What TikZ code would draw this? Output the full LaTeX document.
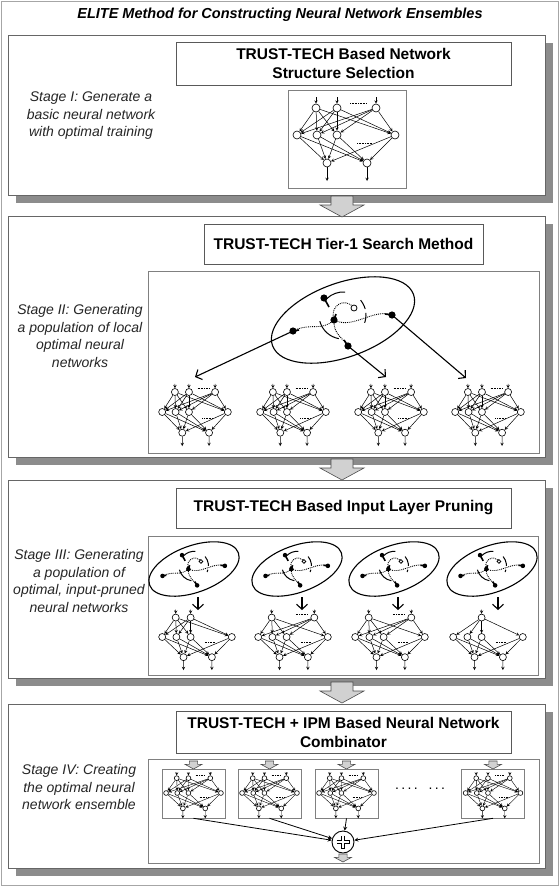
\documentclass[tikz,border=0pt]{standalone}
\usepackage{fontspec}
\setmainfont{Liberation Sans}
\usetikzlibrary{arrows.meta,shadows}

\tikzset{
  neuron/.style={circle, draw, fill=white, inner sep=0pt, minimum size=8pt, line width=0.6pt},
  syn/.style={->, line width=0.5pt},
  stagebox/.style={draw=black!60, fill=white, line width=0.6pt,
    drop shadow={shadow xshift=8pt, shadow yshift=-8pt, fill=black!45, opacity=1}},
  headbox/.style={draw=black!65, fill=white, line width=0.6pt, align=center,
    font=\fontsize{15.5}{19}\selectfont\bfseries},
  innerbox/.style={draw=black!50, fill=white, line width=0.6pt},
  stagetext/.style={font=\fontsize{14}{17.5}\selectfont\itshape, align=center, text=black!85},
  bigarrow/.style={-{Straight Barb[length=5pt,width=11pt]}, line width=1.1pt},
  flow/.style={draw=black!70, fill=black!18, line width=0.6pt},
  traj/.style={densely dotted, line width=0.9pt},
}

% #1 centre, #2 options, #3 name, #4 inputs kept, #5 dots on input row
\newcommand{\nnet}[5]{%
\begin{scope}[shift={#1},#2]
  \foreach \k/\hx in {1/-49,2/-29,3/-9,4/49}
    \node[neuron] (#3h\k) at (\hx,0) {};
  \foreach \k/\ox in {1/-19,2/21} {
    \node[neuron] (#3o\k) at (\ox,28) {};
    \coordinate (#3y\k) at (\ox,46);
    \draw[syn] (#3o\k) -- (#3y\k);
    \foreach \j in {1,...,4} \draw[syn] (#3h\j) -- (#3o\k);
  }
  \foreach \k in {#4} {
    \pgfmathsetmacro{\ix}{{-30,-9,30}[\k-1]}
    \node[neuron] (#3i\k) at (\ix,-27) {};
    \coordinate (#3x\k) at (\ix,-38);
    \draw[syn] (#3x\k) -- (#3i\k);
    \foreach \j in {1,...,4} \draw[syn] (#3i\k) -- (#3h\j);
  }
  \draw[densely dotted, line width=0.6pt] (11,8) -- (26,8);
  \ifnum#5=1 \draw[densely dotted, line width=0.6pt] (4,-32) -- (21,-32); \fi
\end{scope}}

% #1 centre, #2 scale, #3 name
\newcommand{\basin}[3]{%
\begin{scope}[shift={#1}, scale=#2]
  \draw[line width=1.1pt, rotate=20] (0,0) ellipse (75 and 37);
  \coordinate (#3-o) at (11,-12);
  \coordinate (#3-t) at (-19,-22);
  \coordinate (#3-j) at (-9,0);
  \coordinate (#3-l) at (-50,11);
  \coordinate (#3-r) at (49,-5);
  \coordinate (#3-b) at (5,26);
  \draw[line width=1pt, dash pattern=on 10pt off 4pt] (0,-5) ++(-40:23) arc[start angle=-40, end angle=25, radius=23];
  \draw[line width=1pt] (0,-5) ++(-135:23) arc[start angle=-135, end angle=-85, radius=23];
  \draw[line width=1pt] (0,-5) ++(100:24) arc[start angle=100, end angle=165, radius=24];
  \draw[traj] (#3-o) .. controls (2,-24) and (-14,-14) .. (#3-j);
  \draw[traj] (#3-j) .. controls (-22,12) and (-32,2) .. (#3-l);
  \draw[traj] (#3-j) .. controls (10,10) and (30,-12) .. (#3-r);
  \draw[traj] (#3-j) .. controls (-10,14) and (0,18) .. (#3-b);
  \draw[line width=1.6pt] (#3-t) -- ++(5,9);
  \draw[line width=1.6pt] (#3-l) -- ++(6,-1);
  \draw[line width=1.6pt] (#3-r) -- ++(-7,-1);
  \draw[line width=1.6pt] (#3-b) -- ++(-4,-6);
  \draw[line width=1.6pt] (#3-j) -- ++(2,-6);
  \foreach \p in {t,j,l,r,b} \fill (#3-\p) circle (3.6);
  \draw[line width=0.8pt, fill=white] (#3-o) circle (3);
\end{scope}}

% #1 top centre, #2 scale, #3 name
\newcommand{\flowarrow}[3]{%
  \coordinate (#3) at #1;
  \draw[flow, shift={#1}, scale=#2] (-11,0) -- (-11,9) -- (-22,9) -- (0,21) -- (22,9) -- (11,9) -- (11,0) -- cycle;}

\begin{document}
\begin{tikzpicture}[x=1pt, y=-1pt, >=stealth]
\useasboundingbox (0,0) rectangle (559,886);
\draw[black!35] (1,1) rectangle (558,885);
\node[font=\fontsize{14.5}{16}\selectfont\bfseries\itshape] (title) at (280,15) {ELITE Method for Constructing Neural Network Ensembles};

% stage frames
\node[stagebox, minimum width=537pt, minimum height=160pt] (stI) at (276.5,115) {};
\node[stagebox, minimum width=537pt, minimum height=241pt] (stII) at (276.5,336.5) {};
\node[stagebox, minimum width=537pt, minimum height=198pt] (stIII) at (276.5,579) {};
\node[stagebox, minimum width=537pt, minimum height=164pt] (stIV) at (276.5,786) {};
\flowarrow{(342,196)}{1}{fI}
\flowarrow{(342,459)}{1}{fII}
\flowarrow{(342,682)}{1}{fIII}

% stage I
\node[headbox, minimum width=335pt, minimum height=43pt] (hdI) at (343.5,63.5) {TRUST-TECH Based Network\\Structure Selection};
\node[stagetext] (txI) at (91,116) {Stage I: Generate a\\basic neural network\\with optimal training};
\node[innerbox, minimum width=118pt, minimum height=98pt] (boxI) at (347,139) {};
\nnet{(346,135)}{}{a}{1,2,3}{1}

% stage II
\node[headbox, minimum width=279pt, minimum height=40pt] (hdII) at (343.5,244) {TRUST-TECH Tier-1 Search Method};
\node[stagetext] (txII) at (80,336) {Stage II: Generating\\a population of local\\optimal neural\\networks};
\node[innerbox, minimum width=391pt, minimum height=182pt] (inII) at (343.5,362) {};
\basin{(343,320)}{1}{E}
\foreach \n/\cx in {1/195,2/293,3/391,4/488}
  \nnet{(\cx,412)}{xscale=.67,yscale=.74,neuron/.append style={minimum size=7pt}}{b\n}{1,2,3}{1}
\coordinate (t1) at (195,377);
\coordinate (t3) at (386,377);
\coordinate (t4) at (466,378);
\draw[bigarrow] (E-l) -- (t1);
\draw[bigarrow] (E-b) -- (t3);
\draw[bigarrow] (E-r) -- (t4);

% stage III
\node[headbox, minimum width=335pt, minimum height=40pt] (hdIII) at (343.5,508) {TRUST-TECH Based Input Layer Pruning};
\node[stagetext] (txIII) at (79,581) {Stage III: Generating\\a population of\\optimal, input-pruned\\neural networks};
\node[innerbox, minimum width=390pt, minimum height=139pt] (inIII) at (343,605.5) {};
\foreach \n/\cx/\ax in {1/194/198,2/297/302,3/394/398,4/492/498} {
  \basin{(\cx,569)}{.63}{P\n}
  \coordinate (u\n) at (\ax,597);
  \coordinate (v\n) at (\ax,610);
  \draw[bigarrow] (u\n) -- (v\n);
}
\tikzset{neuron/.append style={minimum size=7pt}}
\nnet{(197,637)}{xscale=.71,yscale=.72}{c1}{1,2}{0}
\nnet{(293,637)}{xscale=.71,yscale=.72}{c2}{1,3}{1}
\nnet{(390,637)}{xscale=.71,yscale=.72}{c3}{1,3}{1}
\nnet{(488,637)}{xscale=.71,yscale=.72}{c4}{2}{0}

% stage IV
\node[headbox, minimum width=335pt, minimum height=42pt] (hdIV) at (343.5,732) {TRUST-TECH + IPM Based Neural Network\\Combinator};
\node[stagetext] (txIV) at (79,787) {Stage IV: Creating\\the optimal neural\\network ensemble};
\node[innerbox, minimum width=391pt, minimum height=104pt] (inIV) at (343.5,811) {};
\foreach \n/\cx in {1/193.5,2/269.5,3/346.5,4/493} {
  \flowarrow{(\cx,761)}{.38}{g\n}
  \node[innerbox, minimum width=63pt, minimum height=49pt] (m\n) at (\cx,793.5) {};
  \nnet{(\cx,793)}{xscale=.56,yscale=.55,neuron/.append style={minimum size=4.8pt},syn/.append style={line width=.4pt}}{d\n}{1,2,3}{1}
}
\node[font=\fontsize{14}{16}\selectfont] (more) at (420,789) {.\,.\,.\,.\enspace\ .\,.\,.};
\node[circle, draw, line width=0.9pt, minimum size=22pt, inner sep=0pt, fill=white] (comb) at (343,842) {};
\draw[line width=3.6pt] (comb.center) ++(-6.5,0) -- ++(13,0);
\draw[line width=3.6pt] (comb.center) ++(0,-6.5) -- ++(0,13);
\draw[white, line width=1.8pt] (comb.center) ++(-5.6,0) -- ++(11.2,0);
\draw[white, line width=1.8pt] (comb.center) ++(0,-5.6) -- ++(0,11.2);
\flowarrow{(343,854)}{.38}{gout}
\foreach \n in {1,...,4}
  \draw[->, line width=0.8pt] (m\n.south) -- (comb);
\end{tikzpicture}
\end{document}
